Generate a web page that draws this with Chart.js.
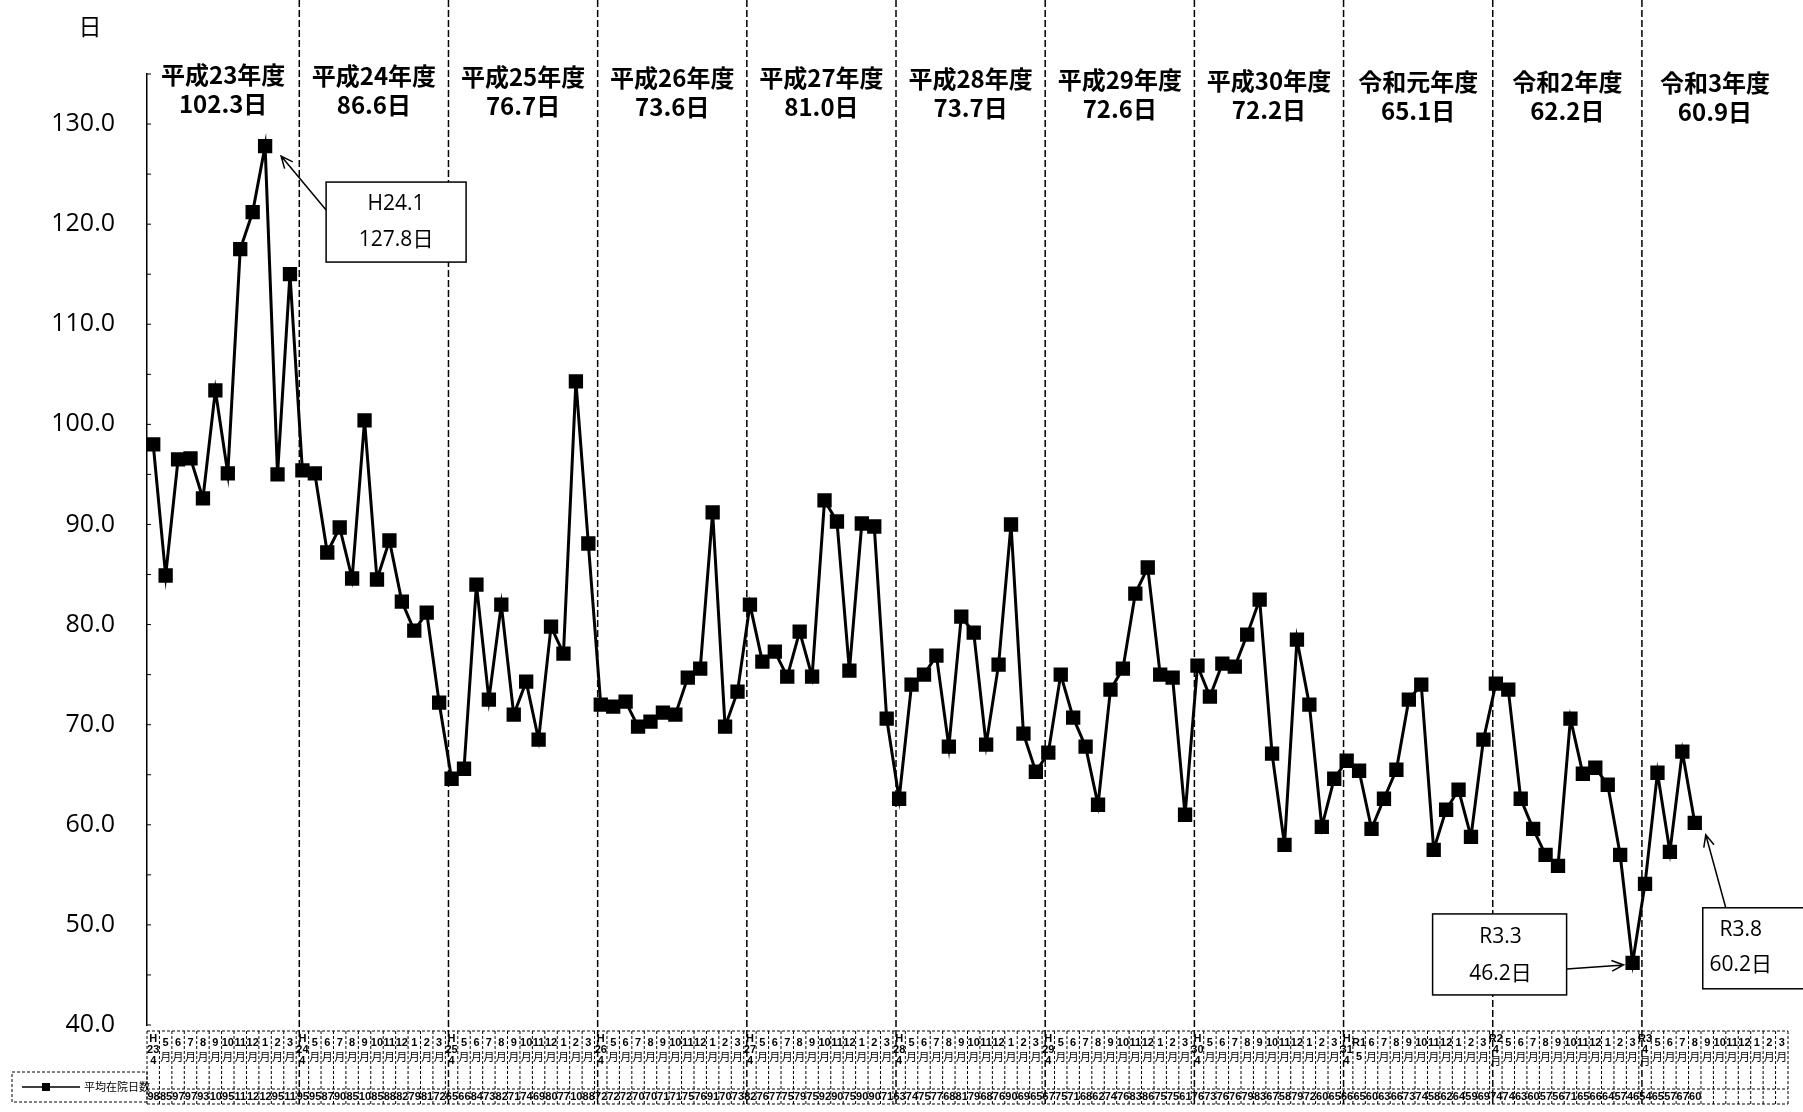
<!DOCTYPE html>
<html lang="ja">
<head>
<meta charset="utf-8">
<script src="https://cdn.jsdelivr.net/npm/chart.js@4.4.0/dist/chart.umd.min.js"></script>
<style>
  html, body { margin: 0; padding: 0; background: #fff; }
  #wrap { width: 1803px; height: 1112px; }
</style>
</head>
<body>
<div id="wrap"><canvas id="stayChart" width="1803" height="1112"></canvas></div>
<script>
// 平均在院日数, one array per fiscal year (April .. March)
const fyH23 = [98.0, 84.9, 96.5, 96.6, 92.6, 103.4, 95.1, 117.5, 121.2, 127.8, 95.0, 115.0];
const fyH24 = [95.4, 95.1, 87.2, 89.7, 84.6, 100.4, 84.5, 88.4, 82.3, 79.4, 81.2, 72.2];
const fyH25 = [64.6, 65.6, 84.0, 72.5, 82.0, 71.0, 74.3, 68.5, 79.8, 77.1, 104.3, 88.1];
const fyH26 = [72.0, 71.8, 72.3, 69.8, 70.3, 71.2, 71.0, 74.7, 75.6, 91.2, 69.8, 73.3];
const fyH27 = [82.0, 76.3, 77.3, 74.8, 79.3, 74.8, 92.4, 90.3, 75.4, 90.1, 89.8, 70.6];
const fyH28 = [62.6, 74.0, 75.0, 76.9, 67.8, 80.8, 79.2, 68.0, 76.0, 90.0, 69.1, 65.3];
const fyH29 = [67.2, 75.0, 70.7, 67.8, 62.0, 73.5, 75.6, 83.1, 85.7, 75.0, 74.7, 61.0];
const fyH30 = [75.9, 72.8, 76.1, 75.8, 79.0, 82.5, 67.1, 58.0, 78.5, 72.0, 59.8, 64.6];
const fyR1  = [66.4, 65.4, 59.6, 62.6, 65.5, 72.5, 74.0, 57.5, 61.5, 63.5, 58.8, 68.5];
const fyR2  = [74.1, 73.5, 62.6, 59.6, 57.0, 55.9, 70.6, 65.1, 65.7, 64.0, 57.0, 46.2];
const fyR3  = [54.1, 65.2, 57.3, 67.3, 60.2];

// header of each fiscal year and its yearly average
const fiscalYears = ['平成23年度', '平成24年度', '平成25年度', '平成26年度', '平成27年度', '平成28年度',
                     '平成29年度', '平成30年度', '令和元年度', '令和2年度', '令和3年度'];
const yearAverages = ['102.3日', '86.6日', '76.7日', '73.6日', '81.0日', '73.7日',
                      '72.6日', '72.2日', '65.1日', '62.2日', '60.9日'];

// tick labels of the table under the chart
const aprilLabels = ['H\n23\n4', 'H\n24\n4', 'H\n25\n4', 'H\n26\n4', 'H\n27\n4', 'H\n28\n4',
                     'H\n29\n4', 'H\n30\n4', 'H\n31\n4', 'R2\n4\n月', 'R3\n4\n月'];
const monthLabels = ['5\n月', '6\n月', '7\n月', '8\n月', '9\n月', '10\n月', '11\n月',
                     '12\n月', '1\n月', '2\n月', '3\n月'];
const specialLabels = { 97: 'R1\n5' };

const yTicks = [40, 50, 60, 70, 80, 90, 100, 110, 120, 130];
const seriesName = '平均在院日数';

// callouts: index of the point, text, box / arrow offsets from that point
const callouts = [
    { index: 9,   lines: ['H24.1', '127.8日'], box: [61, 36, 140, 80],  tx: 70, ty: [22, 58], tail: [61, 64],  tip: [16, 10] },
    { index: 119, lines: ['R3.3', '46.2日'],  box: [-200, -49, 134, 81], tx: 68, ty: [23, 60], tail: [-66, 6],  tip: [-9, 2] },
    { index: 124, lines: ['R3.8', '60.2日'],  box: [8, 85, 110, 81],    tx: 38, ty: [22, 57], tail: [31, 85],  tip: [11, 12] }
];

const values = [].concat(fyH23, fyH24, fyH25, fyH26, fyH27, fyH28, fyH29, fyH30, fyR1, fyR2, fyR3);
const categories = [];
aprilLabels.forEach(start => {
    categories.push(start);
    monthLabels.forEach(m => categories.push(m));
});
Object.keys(specialLabels).forEach(k => { categories[k] = specialLabels[k]; });

const JP = '"Noto Sans CJK JP", "Noto Sans", sans-serif';
const NARROW = '"Liberation Sans Narrow", "Liberation Sans", sans-serif';
const TABLE_TOP = 1031, TABLE_MID = 1089, TABLE_BOTTOM = 1104;

function drawArrow(ctx, x1, y1, x2, y2) {
    const a = Math.atan2(y2 - y1, x2 - x1);
    const h = 13;
    ctx.beginPath();
    ctx.moveTo(x1, y1);
    ctx.lineTo(x2, y2);
    ctx.moveTo(x2 - h * Math.cos(a - 0.42), y2 - h * Math.sin(a - 0.42));
    ctx.lineTo(x2, y2);
    ctx.lineTo(x2 - h * Math.cos(a + 0.42), y2 - h * Math.sin(a + 0.42));
    ctx.stroke();
}

const decorPlugin = {
    id: 'decor',
    beforeDatasetsDraw(chart) {
        const ctx = chart.ctx;
        const x = chart.scales.x;
        const y = chart.scales.y;
        const area = chart.chartArea;
        const cw = x.getPixelForValue(1) - x.getPixelForValue(0);
        ctx.save();
        // year dividers
        ctx.strokeStyle = '#000';
        ctx.lineWidth = 1.5;
        ctx.setLineDash([7, 3]);
        const bounds = [area.left];
        for (let k = 1; k < aprilLabels.length; k++) {
            const px = x.getPixelForValue(k * 12) - cw * 0.25;
            bounds.push(px);
            ctx.beginPath();
            ctx.moveTo(px, 0);
            ctx.lineTo(px, TABLE_BOTTOM);
            ctx.stroke();
        }
        bounds.push(area.right);
        ctx.setLineDash([]);
        // year headers
        ctx.fillStyle = '#000';
        ctx.textAlign = 'center';
        ctx.textBaseline = 'middle';
        ctx.font = 'bold 24px ' + JP;
        fiscalYears.forEach((name, i) => {
            const cx = (bounds[i] + bounds[i + 1]) / 2;
            const dy = i * 0.8;
            ctx.fillText(name, cx, 75 + dy);
            ctx.fillText(yearAverages[i], cx, 104 + dy);
        });
        // unit
        ctx.font = '23px ' + JP;
        ctx.fillText('日', 90, 26);
        // minor ticks inside the y axis
        ctx.lineWidth = 1;
        for (let v = 40; v <= 135; v += 5) {
            const py = y.getPixelForValue(v);
            ctx.beginPath();
            ctx.moveTo(area.left, py);
            ctx.lineTo(area.left + 4, py);
            ctx.stroke();
        }
        ctx.restore();
    },
    afterDraw(chart) {
        const ctx = chart.ctx;
        const x = chart.scales.x;
        const y = chart.scales.y;
        const cw = x.getPixelForValue(1) - x.getPixelForValue(0);
        ctx.save();
        ctx.strokeStyle = '#000';
        ctx.fillStyle = '#000';

        // data table
        ctx.lineWidth = 1;
        ctx.setLineDash([3, 2]);
        const left = x.getPixelForValue(0) - cw / 2;
        const right = x.getPixelForValue(categories.length - 1) + cw / 2;
        [TABLE_TOP, TABLE_MID, TABLE_BOTTOM].forEach(ty => {
            ctx.beginPath();
            ctx.moveTo(left, ty);
            ctx.lineTo(right, ty);
            ctx.stroke();
        });
        for (let i = 0; i <= categories.length; i++) {
            const px = left + i * cw;
            ctx.beginPath();
            ctx.moveTo(px, TABLE_TOP);
            ctx.lineTo(px, TABLE_BOTTOM);
            ctx.stroke();
        }
        // legend cell
        ctx.strokeRect(12, 1072, left - 12, 30);
        ctx.setLineDash([]);
        ctx.lineWidth = 1.5;
        ctx.beginPath();
        ctx.moveTo(22, 1087);
        ctx.lineTo(80, 1087);
        ctx.stroke();
        ctx.fillRect(42, 1083, 8, 8);
        ctx.font = '11px ' + JP;
        ctx.textAlign = 'left';
        ctx.textBaseline = 'middle';
        ctx.fillText(seriesName, 84, 1087);

        ctx.textAlign = 'center';
        categories.forEach((label, i) => {
            const cx = x.getPixelForValue(i);
            const parts = label.split('\n');
            const lh = parts.length > 2 ? 11 : 14;
            const top = parts.length > 2 ? 1039 : 1043;
            parts.forEach((p, j) => {
                ctx.font = (p === '月' ? '11px ' + JP : 'bold 11px ' + NARROW);
                ctx.fillText(p, cx, top + j * lh);
            });
        });
        ctx.font = 'bold 11px ' + NARROW;
        ctx.textAlign = 'left';
        values.forEach((v, i) => {
            const cl = x.getPixelForValue(i) - cw / 2;
            ctx.save();
            ctx.beginPath();
            ctx.rect(cl, TABLE_MID, cw, TABLE_BOTTOM - TABLE_MID);
            ctx.clip();
            ctx.fillText(String(Math.round(v)), cl + 0.5, 1097);
            ctx.restore();
        });

        // callouts
        callouts.forEach(c => {
            const px = x.getPixelForValue(c.index);
            const py = y.getPixelForValue(values[c.index]);
            const bx = px + c.box[0], by = py + c.box[1];
            ctx.lineWidth = 1.5;
            drawArrow(ctx, px + c.tail[0], py + c.tail[1], px + c.tip[0], py + c.tip[1]);
            ctx.fillStyle = '#fff';
            ctx.fillRect(bx, by, c.box[2], c.box[3]);
            ctx.strokeRect(bx, by, c.box[2], c.box[3]);
            ctx.fillStyle = '#000';
            ctx.textAlign = 'center';
            ctx.textBaseline = 'middle';
            ctx.font = '21px "Open Sans", ' + JP;
            c.lines.forEach((t, j) => ctx.fillText(t, bx + c.tx, by + c.ty[j]));
        });
        ctx.restore();
    }
};

new Chart(document.getElementById('stayChart'), {
    type: 'line',
    data: {
        labels: categories,
        datasets: [{
            label: seriesName,
            data: values,
            borderColor: '#000',
            backgroundColor: '#000',
            borderWidth: 3,
            pointStyle: 'rect',
            pointRadius: 8,
            pointBackgroundColor: '#000',
            pointBorderColor: '#000',
            tension: 0
        }]
    },
    options: {
        responsive: false,
        animation: false,
        layout: { padding: { top: 74, bottom: 87, left: 0, right: 15 } },
        plugins: {
            legend: { display: false },
            tooltip: { enabled: false }
        },
        scales: {
            x: {
                display: false,
                offset: true
            },
            y: {
                min: 40,
                max: 135,
                afterFit: scale => { scale.width = 147; },
                afterBuildTicks: scale => { scale.ticks = yTicks.map(v => ({ value: v })); },
                grid: { display: false, drawTicks: false },
                border: { display: true, color: '#000', width: 1.5 },
                ticks: {
                    padding: 32,
                    color: '#000',
                    font: { family: '"Open Sans", sans-serif', size: 25 },
                    callback: v => v.toFixed(1)
                }
            }
        }
    },
    plugins: [decorPlugin]
});
</script>
</body>
</html>
